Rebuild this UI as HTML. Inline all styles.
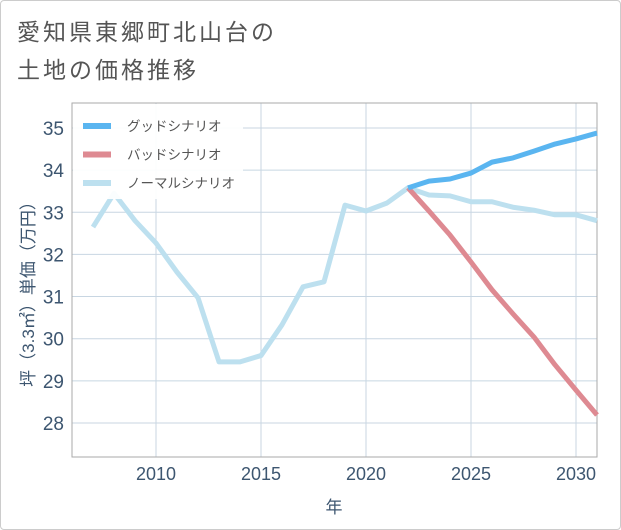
<!DOCTYPE html>
<html><head><meta charset="utf-8"><style>
body{margin:0;width:621px;height:530px;background:#fff;font-family:"Liberation Sans","Noto Sans CJK JP",sans-serif;}
#card{position:absolute;left:0;top:0;width:619px;height:528px;border:1px solid #ccc;border-radius:4px;}
#title{position:absolute;left:17px;top:13px;font-size:23px;letter-spacing:3px;line-height:38px;color:#555;}
svg{position:absolute;left:0;top:0;}
</style></head><body>
<div id="card"></div>
<div id="title">愛知県東郷町北山台の<br>土地の価格推移</div>
<svg id="chart" width="621" height="530"></svg>
<script>
const years=[2007,2008,2009,2010,2011,2012,2013,2014,2015,2016,2017,2018,2019,2020,2021,2022,2023,2024,2025,2026,2027,2028,2029,2030,2031];
const normalVals=[32.65,33.45,32.8,32.27,31.58,30.97,29.45,29.45,29.6,30.33,31.23,31.35,33.17,33.03,33.22,33.58,33.41,33.39,33.25,33.25,33.12,33.05,32.94,32.94,32.8];
const futureYears=[2022,2023,2024,2025,2026,2027,2028,2029,2030,2031];
const goodVals=[33.58,33.74,33.79,33.93,34.19,34.29,34.45,34.62,34.74,34.88];
const badVals=[33.58,33.03,32.46,31.82,31.16,30.59,30.04,29.38,28.78,28.19];
const xTicks=[2010,2015,2020,2025,2030];
const yTicks=[28,29,30,31,32,33,34,35];
const L=72,R=597,T=103,B=457;
const xs=y=>L+(y-2006)*(R-L)/25;
const ys=v=>128+(35-v)*42.14;
const svg=document.getElementById('chart');const NS='http://www.w3.org/2000/svg';
function mk(t,a,p){const e=document.createElementNS(NS,t);for(const k in a)e.setAttribute(k,a[k]);(p||svg).appendChild(e);return e;}
xTicks.forEach(t=>{const l=mk('line',{x1:xs(t),x2:xs(t),y1:T,y2:B,stroke:'#c8d6e2','stroke-width':1});


const tx=mk('text',{x:xs(t),y:480,'text-anchor':'middle','font-size':18,fill:'#3d5670'});tx.textContent=t;

});
yTicks.forEach(t=>{const l=mk('line',{x1:L,x2:R,y1:ys(t),y2:ys(t),stroke:'#c8d6e2','stroke-width':1});


const tx=mk('text',{x:64,y:ys(t)+7,'text-anchor':'end','font-size':19,fill:'#3d5670'});tx.textContent=t;

});
const fr=mk('rect',{x:L,y:T,width:R-L,height:B-T,fill:'none',stroke:'#aaa','stroke-width':1});


function line(xv,vals,col,name){const p=mk('polyline',{points:xv.map((y,i)=>xs(y)+','+ys(vals[i])).join(' '),fill:'none',stroke:col,'stroke-width':5,'stroke-linejoin':'round'});

}
line(years,normalVals,'#bde0ef','normal-scenario-line');
line(futureYears,badVals,'#de8a92','bad-scenario-line');
line(futureYears,goodVals,'#5ab5f0','good-scenario-line');
const lb=mk('rect',{x:L+1,y:T+1,width:170,height:95,fill:'rgba(255,255,255,0.92)'});


[['グッドシナリオ','#5ab5f0'],['バッドシナリオ','#de8a92'],['ノーマルシナリオ','#bde0ef']].forEach((d,i)=>{const y=126+i*28.5;
const g=mk('g',{});


mk('line',{x1:83,x2:111,y1:y,y2:y,stroke:d[1],'stroke-width':6},g);
const t=mk('text',{x:127,y:y+5,'font-size':13.5,fill:'#555'},g);t.textContent=d[0];});
const xt=mk('text',{x:334,y:513,'text-anchor':'middle','font-size':17,fill:'#3d5670'});xt.textContent='年';


const yt=mk('text',{x:0,y:0,'text-anchor':'middle','font-size':17,fill:'#3d5670',transform:'translate(34,290) rotate(-90)'});yt.textContent='坪（3.3㎡）単価（万円）';


</script>
</body></html>
